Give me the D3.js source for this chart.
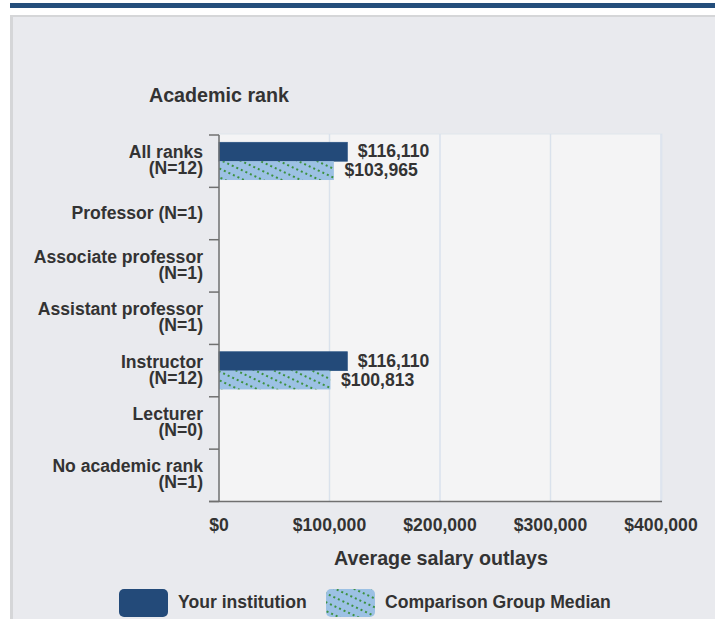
<!DOCTYPE html>
<html>
<head>
<meta charset="utf-8">
<title>Academic rank salary outlays</title>
<script src="https://d3js.org/d3.v7.min.js"></script>
<style>
  body { margin: 0; background: #ffffff; }
  svg text { font-family: "Liberation Sans", Arial, sans-serif; font-weight: bold; fill: #333333; }
</style>
</head>
<body>
<svg id="chart" width="715" height="619"></svg>
<script>
// data
var ranks = [
  ["All ranks", "(N=12)"],
  ["Professor (N=1)"],
  ["Associate professor", "(N=1)"],
  ["Assistant professor", "(N=1)"],
  ["Instructor", "(N=12)"],
  ["Lecturer", "(N=0)"],
  ["No academic rank", "(N=1)"]
];
var yourInstitution = [116110, null, null, null, 116110, null, null];
var comparisonMedian = [103965, null, null, null, 100813, null, null];
var xTicks = [0, 100000, 200000, 300000, 400000];
var seriesNames = ["Your institution", "Comparison Group Median"];

var svg = d3.select("#chart");
var W = 715, H = 619;
var fs = 17.6;

// page chrome
svg.append("rect").attr("x", 10).attr("y", 3).attr("width", W - 10).attr("height", 5).attr("fill", "#244e7b");
svg.append("rect").attr("x", 10).attr("y", 15).attr("width", W - 10).attr("height", H - 15).attr("fill", "#d5d6d8");
svg.append("rect").attr("x", 13).attr("y", 17).attr("width", W - 13).attr("height", H - 17).attr("fill", "#e9eaee");

var defs = svg.append("defs");
var pat = defs.append("pattern")
  .attr("id", "dots")
  .attr("patternUnits", "userSpaceOnUse")
  .attr("width", 10).attr("height", 8)
  .attr("patternTransform", "rotate(25)");
pat.append("rect").attr("width", 10).attr("height", 8).attr("fill", "#9cc1e4");
pat.append("line").attr("x1", 0).attr("x2", 10).attr("y1", 4).attr("y2", 4)
  .attr("stroke", "#3d9140").attr("stroke-width", 2.2).attr("stroke-dasharray", "2,3");

var pL = 219, pR = 661, pT = 135, pB = 501.5;

var x = d3.scaleLinear().domain([0, 400000]).range([pL, pR]);
var y = d3.scaleBand().domain(d3.range(ranks.length)).range([pT, pB]).padding(0);
var ySub = d3.scaleBand().domain([0, 1]).range([0, y.bandwidth()]).paddingInner(0).paddingOuter(0.39);

// plot background
svg.append("rect").attr("x", pL).attr("y", pT - 1).attr("width", pR - pL + 1).attr("height", pB - pT + 1)
  .attr("fill", "#f4f4f5").attr("stroke", "#dfe5ec").attr("stroke-width", 1);

// grid
svg.append("g").selectAll("line").data(xTicks.slice(1)).join("line")
  .attr("x1", d => x(d)).attr("x2", d => x(d))
  .attr("y1", pT - 1).attr("y2", pB)
  .attr("stroke", "#dae2ec").attr("stroke-width", 1.5);

// bars
var fmt = d3.format("$,.0f");
var series = [yourInstitution, comparisonMedian];
var fills = ["#234a79", "url(#dots)"];
series.forEach(function(vals, s) {
  var rows = vals.map((v, i) => ({i: i, v: v})).filter(d => d.v != null);
  var g = svg.append("g");
  g.selectAll("rect").data(rows).join("rect")
    .attr("x", x(0))
    .attr("y", d => y(d.i) + ySub(s))
    .attr("width", d => x(d.v) - x(0))
    .attr("height", ySub.bandwidth())
    .attr("fill", fills[s])
    .attr("stroke", s === 0 ? "#2c5584" : "none")
    .attr("stroke-width", 0.8);
  g.selectAll("text").data(rows).join("text")
    .attr("x", d => x(d.v) + 10.5)
    .attr("y", d => y(d.i) + ySub(s) + ySub.bandwidth() / 2 + 5.5)
    .attr("font-size", fs)
    .text(d => fmt(d.v));
});

// y axis
var yAxis = svg.append("g");
yAxis.append("line").attr("x1", pL).attr("x2", pL).attr("y1", pT).attr("y2", pB)
  .attr("stroke", "#707070").attr("stroke-width", 1.5);
yAxis.selectAll("line.tick").data(d3.range(ranks.length + 1)).join("line")
  .attr("class", "tick")
  .attr("x1", pL - 10).attr("x2", pL)
  .attr("y1", d => pT + d * y.step()).attr("y2", d => pT + d * y.step())
  .attr("stroke", "#707070").attr("stroke-width", 1.5);
var lh = 16;
yAxis.selectAll("text.cat").data(ranks).join("text")
  .attr("class", "cat")
  .attr("text-anchor", "end")
  .attr("font-size", fs)
  .each(function(lines, i) {
    var c = y(i) + y.bandwidth() / 2;
    d3.select(this).selectAll("tspan").data(lines).join("tspan")
      .attr("x", 203)
      .attr("y", (t, k) => c + (k - (lines.length - 1) / 2) * lh + 5)
      .text(t => t);
  });

// x axis
svg.append("line").attr("x1", pL - 10).attr("x2", pR + 1).attr("y1", pB).attr("y2", pB)
  .attr("stroke", "#707070").attr("stroke-width", 1.5);
svg.append("g").selectAll("text").data(xTicks).join("text")
  .attr("x", d => x(d)).attr("y", 531)
  .attr("text-anchor", "middle").attr("font-size", fs)
  .text(d => fmt(d));

// titles
svg.append("text").attr("x", 219).attr("y", 102).attr("text-anchor", "middle")
  .attr("font-size", 19.7).text("Academic rank");
svg.append("text").attr("x", 441).attr("y", 565).attr("text-anchor", "middle")
  .attr("font-size", 19.7).text("Average salary outlays");

// legend
var legX = [119, 326];
var lg = svg.append("g").selectAll("g").data(seriesNames).join("g")
  .attr("transform", (d, i) => "translate(" + legX[i] + ",589)");
lg.append("rect").attr("width", 49).attr("height", 28).attr("rx", 5)
  .attr("fill", (d, i) => fills[i]);
lg.append("text").attr("x", 59).attr("y", 19).attr("font-size", fs).text(d => d);
</script>
</body>
</html>
